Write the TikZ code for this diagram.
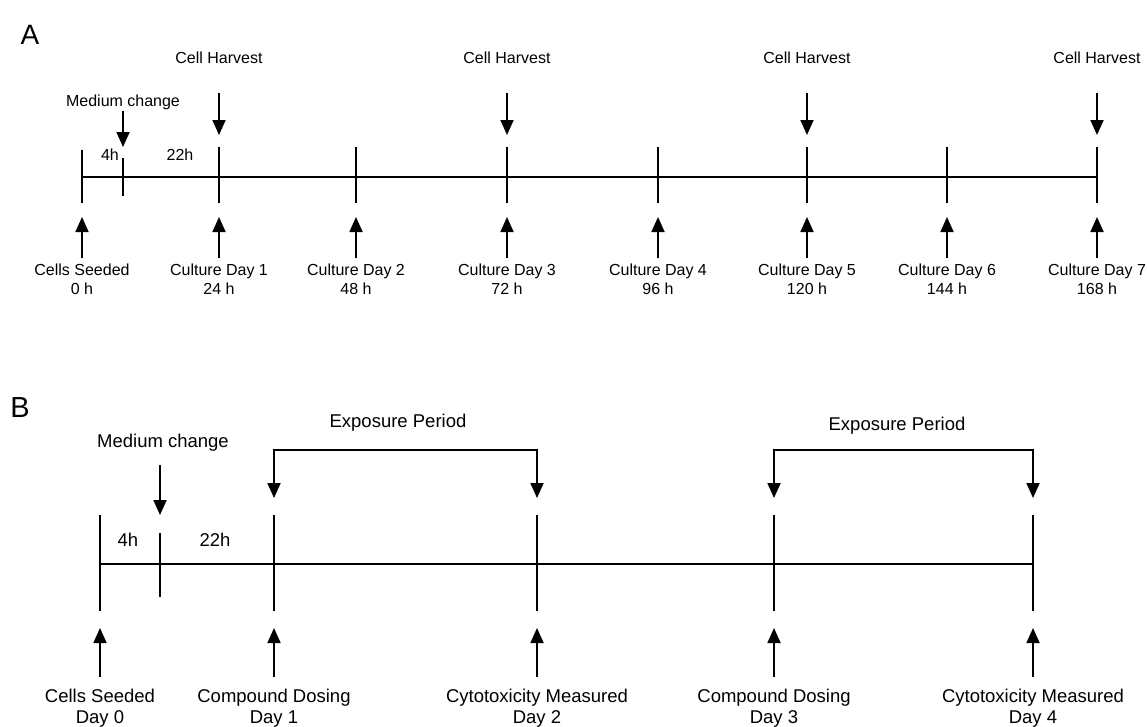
\documentclass[tikz,border=0pt]{standalone}
\usepackage{fontspec}
\setmainfont{Liberation Sans}
\usetikzlibrary{arrows.meta}

\tikzset{
  tl/.style={line width=1.8pt},
  arr/.style={tl,-{Triangle[width=13pt,length=15pt]}},
  arrboth/.style={tl,{Triangle[width=13pt,length=15pt]}-{Triangle[width=13pt,length=15pt]}},
  txta/.style={inner sep=0pt,align=center,font=\fontsize{16}{19}\selectfont},
  txtb/.style={inner sep=0pt,align=center,font=\fontsize{18.5}{21}\selectfont}
}

\begin{document}
\begin{tikzpicture}[x=1pt,y=-1pt]
\useasboundingbox (0,0) rectangle (1147,726);

\node[font=\fontsize{28}{30}\selectfont] (pa) at (30,35) {A};
\coordinate (a0) at (82,177);
\coordinate (a7) at (1098,177);
\draw[tl] (a0) -- (a7);

\coordinate (at0) at (82,150);
\coordinate (ab0) at (82,203);
\draw[tl] (at0) -- (ab0);
\node[txta,anchor=north] (da0) at (82,264) {Cells Seeded\\0 h};
\draw[arr,shorten <=6pt,shorten >=14pt] (da0.north) -- (ab0);

\coordinate (amt) at (123,158);
\coordinate (amb) at (123,196);
\draw[tl] (amt) -- (amb);
\node[txta] (mca) at (123,102) {Medium change};
\draw[arr,shorten <=1pt,shorten >=11pt] (mca.south) -- (amt);
\node[txta] (h4a) at (110,155) {4h};
\node[txta] (h22a) at (180,155) {22h};

\foreach \d/\x/\h in {1/219/24,2/356/48,3/507/72,4/658/96,5/807/120,6/947/144,7/1097/168}{
  \coordinate (at\d) at (\x,147);
  \coordinate (ab\d) at (\x,203);
  \draw[tl] (at\d) -- (ab\d);
  \node[txta,anchor=north] (da\d) at (\x,264) {Culture Day \d\\\h\ h};
  \draw[arr,shorten <=6pt,shorten >=14pt] (da\d.north) -- (ab\d);
}
\foreach \d in {1,3,5,7}{
  \node[txta,anchor=south] (hv\d) at (at\d |- 0,64) {Cell Harvest};
  \draw[arr,shorten <=29pt,shorten >=12pt] (hv\d.south) -- (at\d);
}

\node[font=\fontsize{29}{31}\selectfont] (pb) at (20,408) {B};
\coordinate (b0) at (100,564);
\coordinate (b4) at (1033,564);
\draw[tl] (b0) -- (b4);

\foreach \k/\x/\t/\d in {0/100/Cells Seeded/0,1/274/Compound Dosing/1,2/537/Cytotoxicity Measured/2,3/774/Compound Dosing/3,4/1033/Cytotoxicity Measured/4}{
  \coordinate (bt\k) at (\x,515);
  \coordinate (bb\k) at (\x,611);
  \draw[tl] (bt\k) -- (bb\k);
  \node[txtb,anchor=north] (db\k) at (\x,689) {\t\\Day \d};
  \draw[arr,shorten <=12pt,shorten >=17pt] (db\k.north) -- (bb\k);
}

\coordinate (bmt) at (160,533);
\coordinate (bmb) at (160,597);
\draw[tl] (bmt) -- (bmb);
\node[txtb] (mcb) at (163,443) {Medium change};
\draw[arr,shorten <=13pt,shorten >=18pt] (bmt |- mcb.south) -- (bmt);
\node[txtb] (h4b) at (128,540) {4h};
\node[txtb] (h22b) at (215,540) {22h};

\draw[arrboth,shorten <=17pt,shorten >=17pt] (bt1) -- ++(0,-65) -| (bt2);
\node[txtb] (ep1) at (398,423) {Exposure Period};
\draw[arrboth,shorten <=17pt,shorten >=17pt] (bt3) -- ++(0,-65) -| (bt4);
\node[txtb] (ep2) at (897,426) {Exposure Period};
\end{tikzpicture}
\end{document}
